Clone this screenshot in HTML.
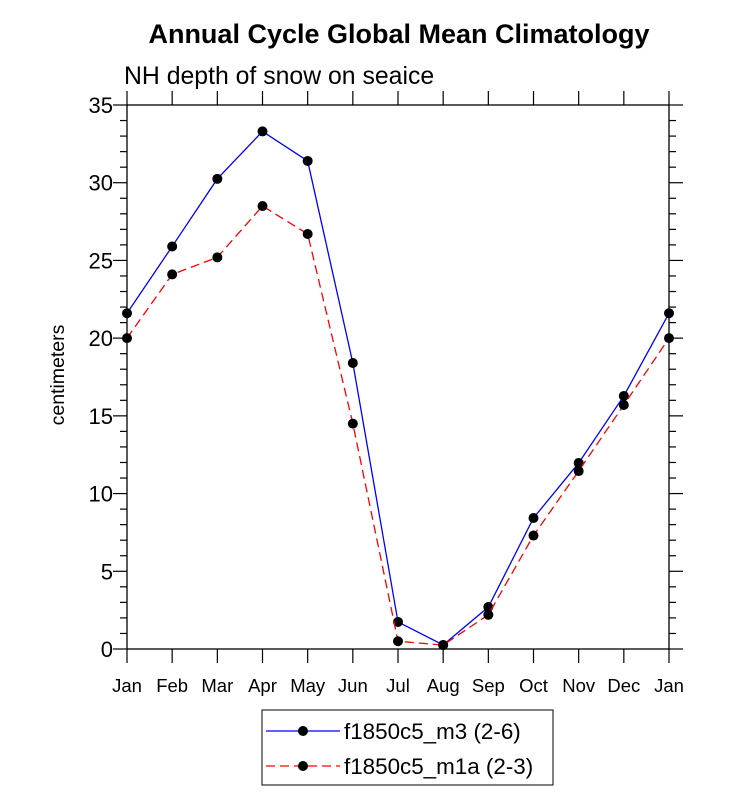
<!DOCTYPE html>
<html><head><meta charset="utf-8"><style>
body{margin:0;background:#fff}
svg text{font-family:"Liberation Sans",Arial,sans-serif}
</style></head><body>
<svg id="c" width="733" height="806" xmlns="http://www.w3.org/2000/svg">
<text x="399" y="43" text-anchor="middle" font-size="27" font-weight="bold">Annual Cycle Global Mean Climatology</text>
<text x="124" y="84" font-size="24.8">NH depth of snow on seaice</text>
<text transform="translate(64,375) rotate(-90)" text-anchor="middle" font-size="19.5">centimeters</text>
<g id="axes"></g><g id="series"></g>
<g>
<rect x="262" y="710" width="291" height="75" fill="#fff" stroke="#000" stroke-width="1"/>
<g>
<line x1="266" y1="731" x2="340" y2="731" stroke="#0000ff" stroke-width="1.3"/>
<circle cx="303" cy="731" r="5" fill="#000"/>
<text x="344" y="739" font-size="22.4">f1850c5_m3 (2-6)</text></g>
<g>
<line x1="266" y1="766" x2="340" y2="766" stroke="#ff0000" stroke-width="1.3" stroke-dasharray="9,5"/>
<circle cx="303" cy="766" r="5" fill="#000"/>
<text x="344" y="774" font-size="22.4">f1850c5_m1a (2-3)</text></g>
</g>
</svg>
<script>
const months=["Jan","Feb","Mar","Apr","May","Jun","Jul","Aug","Sep","Oct","Nov","Dec","Jan"];
const yTicks=[0,5,10,15,20,25,30,35];
const m3=[21.6,25.9,30.25,33.3,31.4,18.4,1.74,0.26,2.7,8.43,11.97,16.28,21.6];
const m1a=[20.0,24.1,25.2,28.5,26.7,14.5,0.5,0.25,2.2,7.3,11.45,15.7,20.0];
const L=127,R=669,T=105,B=649,YMAX=35;
const xs=i=>L+(R-L)*i/12, ys=v=>B-(B-T)*v/YMAX;
const NS="http://www.w3.org/2000/svg";
function mk(p,t,a){const e=document.createElementNS(NS,t);for(const k in a)e.setAttribute(k,a[k]);p.appendChild(e);return e;}
const ax=document.getElementById('axes');
const fr=mk(ax,'rect',{x:L,y:T,width:R-L,height:B-T,fill:'none',stroke:'#000','stroke-width':1.3});


for(let v=0;v<=YMAX;v++){const y=ys(v),len=v%5==0?14:7;
 mk(ax,'line',{x1:L-len,y1:y,x2:L,y2:y,stroke:'#000','stroke-width':1.2});
 mk(ax,'line',{x1:R,y1:y,x2:R+len,y2:y,stroke:'#000','stroke-width':1.2});}
yTicks.forEach(v=>{const t=mk(ax,'text',{x:L-14,y:ys(v)+8,'text-anchor':'end','font-size':22});t.textContent=v;
 
 });
months.forEach((m,i)=>{const x=xs(i);
 mk(ax,'line',{x1:x,y1:B,x2:x,y2:B+14,stroke:'#000','stroke-width':1.2});
 mk(ax,'line',{x1:x,y1:T-14,x2:x,y2:T,stroke:'#000','stroke-width':1.2});
 const t=mk(ax,'text',{x:x,y:B+43,'text-anchor':'middle','font-size':18.5});t.textContent=m;
 
 });
const sg=document.getElementById('series');
function draw(d,col,dash,name){const g=mk(sg,'g',{});
 
 
 mk(g,'polyline',{points:d.map((v,i)=>xs(i)+','+ys(v)).join(' '),fill:'none',stroke:col,'stroke-width':1.3,'stroke-dasharray':dash});
 d.forEach((v,i)=>{const c=mk(g,'circle',{cx:xs(i),cy:ys(v),r:5,fill:'#000'});
  
  });}
draw(m3,'#0000ff','none','series-m3');
draw(m1a,'#ff0000','9,5','series-m1a');
</script>
</body></html>
